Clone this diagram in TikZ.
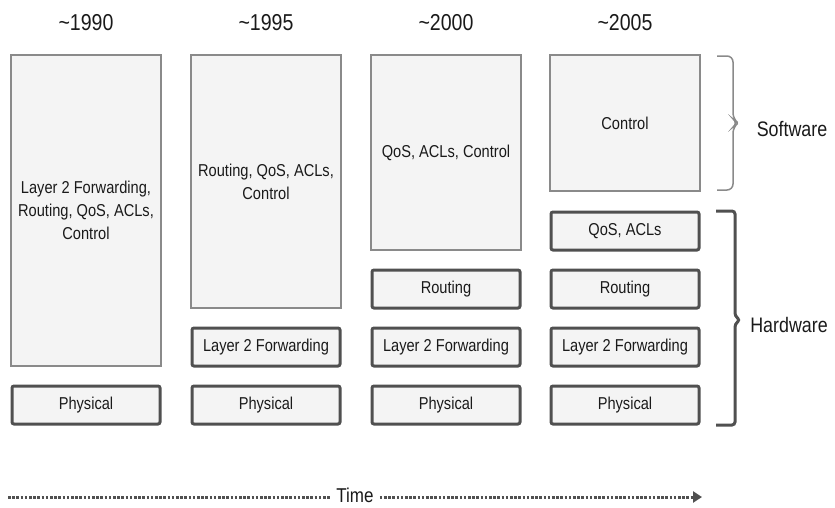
\documentclass[tikz,border=0pt]{standalone}
\usepackage{fontspec}
\setmainfont{Liberation Sans}[FakeStretch=0.85]
\usetikzlibrary{arrows.meta}
\definecolor{boxfill}{HTML}{F4F4F4}
\definecolor{swline}{HTML}{8A8A8A}
\definecolor{hwline}{HTML}{505050}
\definecolor{txt}{HTML}{1A1A1A}
\begin{document}
\begin{tikzpicture}[x=1pt,y=-1pt,
    yearlbl/.style={font=\fontsize{23}{26}\selectfont,text=txt},
    swbox/.style={draw=swline,line width=1.5pt,fill=boxfill,minimum width=150pt,
      align=center,text=txt,font=\fontsize{17.2}{23}\selectfont},
    hwbox/.style={draw=hwline,line width=3pt,rounded corners=2pt,fill=boxfill,
      minimum width=148pt,minimum height=38pt,text=txt,font=\fontsize{17.2}{20}\selectfont},
    sidelbl/.style={font=\fontsize{21}{24}\selectfont,text=txt},
    dots/.style={draw=hwline,line width=3pt,dash pattern=on 2.6pt off 1.6pt}]
  \useasboundingbox (0,0) rectangle (835,507);
  % years
  \foreach \x/\y in {86/1990, 266/1995, 446/2000, 625/2005}{
    \node[yearlbl] (y\y) at (\x,23) {\textasciitilde\y};
  }
  % software part of each box
  \node[swbox,minimum height=311pt] (s1) at (86,210.5)
    {Layer 2 Forwarding,\\Routing, QoS, ACLs,\\Control};
  \node[swbox,minimum height=253pt] (s2) at (266,181.5)
    {Routing, QoS, ACLs,\\Control};
  \node[swbox,minimum height=195pt] (s3) at (446,152.5) {QoS, ACLs, Control};
  \node[swbox,minimum height=136pt] (s4) at (625,123) {Control};
  % hardware layers
  \foreach \x/\y/\n/\v in {
    86/405/p1/Physical,
    266/347/f2/Layer 2 Forwarding, 266/405/p2/Physical,
    446/289/r3/Routing, 446/347/f3/Layer 2 Forwarding, 446/405/p3/Physical,
    625/231/q4/{QoS, ACLs}, 625/289/r4/Routing, 625/347/f4/Layer 2 Forwarding,
    625/405/p4/Physical
  }{
    \node[hwbox] (\n) at (\x,\y) {\v};
  }
  % brackets
  \draw[swline,line width=1.5pt,rounded corners=6pt]
    (717,56) -- (733,56) -- (733,119) -- (738,123) -- (733,127) -- (733,190) -- (717,190);
  \draw[hwline,line width=3pt,rounded corners=3pt]
    (716,211) -- (735,211) -- (735,316) -- (740,320) -- (735,324) -- (735,425) -- (716,425);
  \node[sidelbl] (sw) at (792,129) {Software};
  \node[sidelbl] (hw) at (789,325) {Hardware};
  % time axis
  \node[font=\fontsize{20}{22}\selectfont,text=txt,inner sep=6pt] (time) at (355,495) {Time};
  \coordinate (t0) at (8,497);
  \coordinate (t1) at (702,497);
  \draw[dots] (t0) -- (t0 -| time.west);
  \draw[dots,-{Triangle[length=9pt,width=11pt]}] (t1 -| time.east) -- (t1);
\end{tikzpicture}
\end{document}
